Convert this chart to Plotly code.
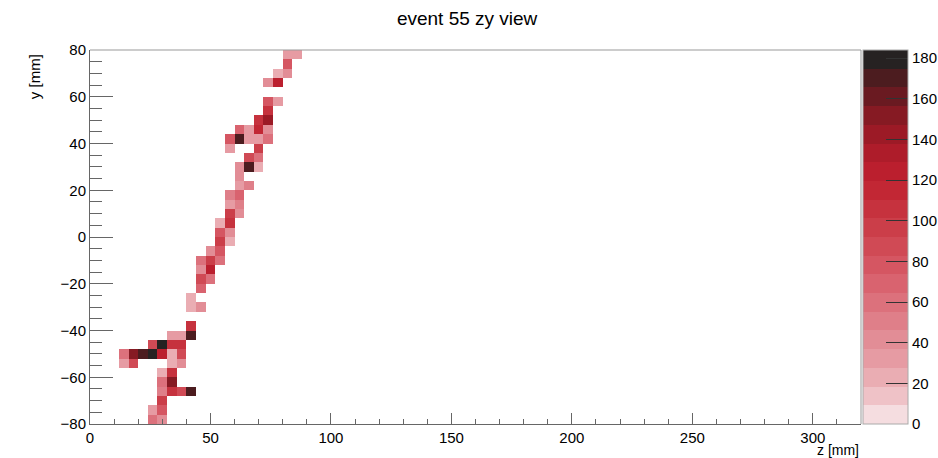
import numpy as np
import plotly.graph_objects as go

# Hits: bin-centre coordinates (mm) and charge
hit_z = [82, 86, 82, 78, 82, 74, 78, 74, 78, 74, 70, 74, 62, 66, 70, 74,
         58, 62, 66, 70, 74, 58, 70, 66, 70, 62, 66, 70, 62, 62, 66, 58, 62,
         58, 62, 58, 62, 54, 58, 54, 58, 54, 58, 50, 54, 46, 50, 54, 46, 50,
         46, 50, 46, 42, 42, 46, 42, 34, 38, 42, 26, 30, 34, 38,
         14, 18, 22, 26, 30, 34, 38, 14, 18, 34, 38, 30, 34, 30, 34,
         30, 34, 38, 42, 30, 26, 30, 26, 30]
hit_y = [78, 78, 74, 70, 70, 66, 66, 58, 58, 54, 50, 50, 46, 46, 46, 46,
         42, 42, 42, 42, 42, 38, 38, 34, 34, 30, 30, 30, 26, 22, 22, 18, 18,
         14, 14, 10, 10, 6, 6, 2, 2, -2, -2, -6, -6, -10, -10, -10, -14, -14,
         -18, -18, -22, -26, -30, -30, -38, -42, -42, -42, -46, -46, -46, -46,
         -50, -50, -50, -50, -50, -50, -50, -54, -54, -54, -54, -58, -58, -62, -62,
         -66, -66, -66, -66, -70, -74, -74, -78, -78]
hit_q = [30, 32, 75, 25, 45, 40, 120, 75, 32, 105, 105, 140, 70, 32, 118, 40,
         80, 172, 32, 30, 58, 30, 92, 88, 58, 42, 168, 25, 42, 32, 55, 50, 68,
         32, 55, 98, 40, 25, 105, 75, 40, 98, 25, 40, 75, 58, 92, 58, 40, 120,
         90, 58, 65, 25, 25, 40, 105, 32, 32, 172, 88, 178, 105, 110,
         58, 155, 168, 182, 122, 22, 90, 32, 85, 22, 40, 22, 105, 60, 150,
         55, 108, 85, 172, 100, 30, 80, 62, 42]

bin_w = 4
z_edges = np.arange(0, 320 + bin_w, bin_w)
y_edges = np.arange(-80, 80 + bin_w, bin_w)
z_centers = (z_edges[:-1] + z_edges[1:]) / 2
y_centers = (y_edges[:-1] + y_edges[1:]) / 2

grid = np.full((len(y_centers), len(z_centers)), np.nan)
for z, y, q in zip(hit_z, hit_y, hit_q):
    i = int((y + 80) // bin_w)
    k = int(z // bin_w)
    grid[i, k] = q

colors = ["#f5dde0", "#efc2c7", "#eaadb3", "#e69ba3", "#e28d96", "#df7f89",
          "#dc717c", "#d9636f", "#d55662", "#d04a55", "#cb3e49", "#c6323e",
          "#c22734", "#bb1f2e", "#ae1c2a", "#9c1a26", "#861a23", "#6a1a21",
          "#4c1c1f", "#262222"]
n = len(colors)
cs = []
for i, c in enumerate(colors):
    cs.append([i / n, c])
    cs.append([(i + 1) / n, c])

zmax = 184
font = "Liberation Sans, Arial, Helvetica, sans-serif"

fig = go.Figure(go.Heatmap(
    x=z_centers, y=y_centers, z=grid, zmin=0, zmax=zmax,
    colorscale=cs, hoverongaps=False,
    colorbar=dict(
        x=1.0026, xanchor="left", xref="paper", y=0.5, yanchor="middle",
        len=1.0, lenmode="fraction", thickness=45, thicknessmode="pixels",
        tickvals=list(range(0, 181, 20)), ticks="inside", ticklen=22,
        tickcolor="#333333", tickwidth=1, outlinewidth=1, outlinecolor="#aaaaaa",
        tickfont=dict(family=font, size=15, color="black"), xpad=0, ypad=0,
    ),
))

fig.update_layout(
    width=938, height=458,
    margin=dict(l=90, r=77, t=50, b=34, autoexpand=False),
    paper_bgcolor="white", plot_bgcolor="white",
    title=dict(text="event 55 zy view", x=0.498, xanchor="center",
               y=0.96, yanchor="middle",
               font=dict(family=font, size=19, color="black")),
    font=dict(family=font, size=15, color="black"),
    xaxis=dict(range=[0, 320], showgrid=False, zeroline=False,
               showline=True, linecolor="#666666", linewidth=1,
               ticks="inside", ticklen=11, tickcolor="#666666", dtick=50, tick0=0,
               minor=dict(ticks="inside", ticklen=5, dtick=10, tickcolor="#666666"),
               tickfont=dict(family=font, size=15, color="black")),
    yaxis=dict(range=[-80, 80], showgrid=False, zeroline=False,
               showline=True, linecolor="#666666", linewidth=1,
               ticks="inside", ticklen=23, tickcolor="#666666", dtick=20, tick0=0,
               minor=dict(ticks="inside", ticklen=12, dtick=5, tickcolor="#666666"),
               tickfont=dict(family=font, size=15, color="black")),
    shapes=[
        dict(type="line", xref="paper", yref="paper", x0=0, x1=1, y0=1, y1=1,
             line=dict(color="#999999", width=1)),
        dict(type="line", xref="paper", yref="paper", x0=1, x1=1, y0=0, y1=1,
             line=dict(color="#999999", width=1)),
    ],
    annotations=[
        dict(text="z [mm]", xref="paper", yref="paper", x=1.0, y=-0.0695,
             xanchor="right", yanchor="middle", showarrow=False,
             font=dict(family=font, size=14, color="black")),
        dict(text="y [mm]", xref="paper", yref="paper", x=-0.071, y=0.928,
             xanchor="center", yanchor="middle", showarrow=False, textangle=-90,
             font=dict(family=font, size=15, color="black")),
    ],
)

fig.write_html(
    "out.html",
    config={"displayModeBar": False},
    post_script="document.body.style.margin='0';document.body.style.overflow='hidden';",
)
